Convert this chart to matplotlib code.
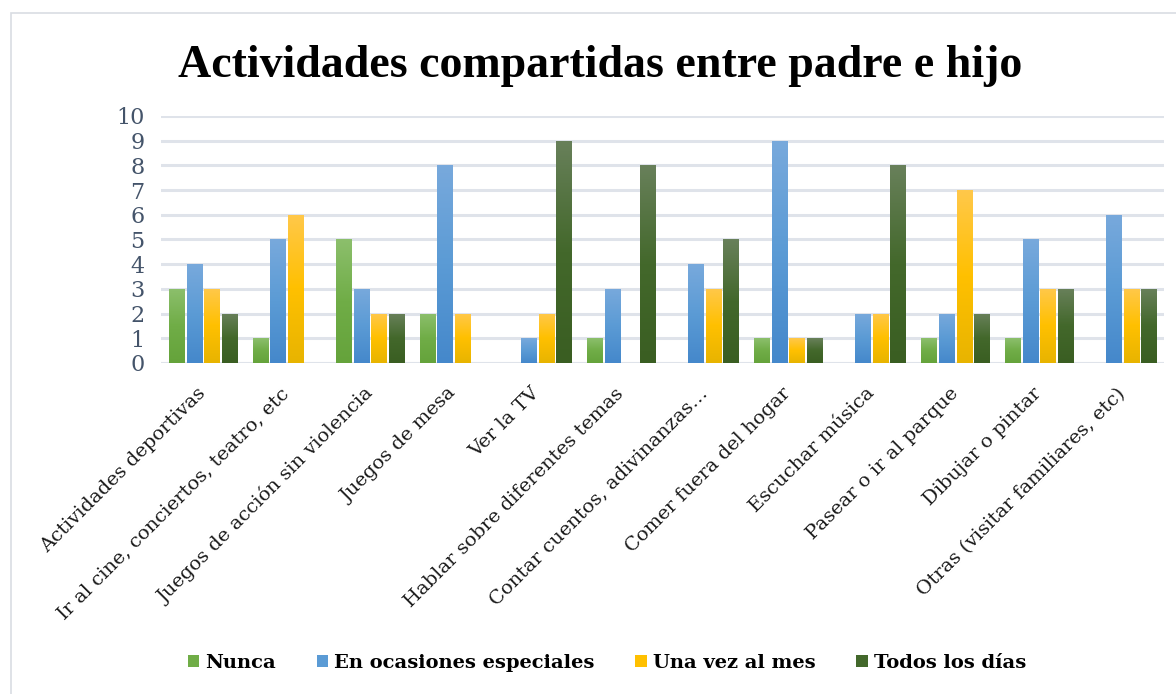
import numpy as np
import matplotlib
matplotlib.use("Agg")
import matplotlib.pyplot as plt
from matplotlib.colors import LinearSegmentedColormap
from matplotlib.patches import Rectangle, Patch

categories = ["Actividades deportivas", "Ir al cine, conciertos, teatro, etc",
              "Juegos de acción sin violencia", "Juegos de mesa", "Ver la TV",
              "Hablar sobre diferentes temas", "Contar cuentos, adivinanzas…",
              "Comer fuera del hogar", "Escuchar música", "Pasear o ir al parque",
              "Dibujar o pintar", "Otras (visitar familiares, etc)"]
nunca = [3, 1, 5, 2, 0, 1, 0, 1, 0, 1, 1, 0]
ocasiones = [4, 5, 3, 8, 1, 3, 4, 9, 2, 2, 5, 6]
una_vez = [3, 6, 2, 2, 2, 0, 3, 1, 2, 7, 3, 3]
todos = [2, 0, 2, 0, 9, 8, 5, 1, 8, 2, 3, 3]
series_names = ["Nunca", "En ocasiones especiales", "Una vez al mes", "Todos los días"]

# (top, mid, bottom) colours for the Excel-like gradient
grads = [("#8cbf6c", "#70ad47", "#65a33b"),
         ("#78a9dc", "#5b9bd5", "#4588cb"),
         ("#ffc84a", "#ffc000", "#e8b400"),
         ("#68805a", "#43682b", "#3a5e22")]
solid = ["#70ad47", "#5b9bd5", "#ffc000", "#43682b"]

serif = "DejaVu Serif"
plt.rcParams["font.family"] = serif

fig = plt.figure(figsize=(11.76, 6.94), dpi=100)
ax = fig.add_axes([0.137, 0.477, 0.853, 0.356])

# chart frame
fig.patches.append(Rectangle((11 / 1176, -0.1), 1.2, 1 - 13 / 694 + 0.1,
                             transform=fig.transFigure, fill=False,
                             edgecolor="#d9dde3", linewidth=1.2))

x = np.arange(len(categories))
slot = 0.21
width = 0.18
data = [nunca, ocasiones, una_vez, todos]
grad = np.linspace(0, 1, 100).reshape(-1, 1)
for i, vals in enumerate(data):
    pos = x + (i - 1.5) * slot
    bars = ax.bar(pos, vals, width, color=solid[i], zorder=2)
    cmap = LinearSegmentedColormap.from_list("g%d" % i, grads[i][::-1])
    for b in bars:
        h = b.get_height()
        if h <= 0:
            continue
        x0 = b.get_x()
        im = ax.imshow(grad, cmap=cmap, origin="lower", aspect="auto",
                       extent=[x0, x0 + b.get_width(), 0, h], zorder=3)
        im.set_clip_path(b)

ax.set_xlim(-0.5, len(categories) - 0.5)
ax.set_ylim(0, 10)
ax.set_yticks(range(0, 11))
ax.yaxis.grid(True, color="#dfe3ea", linewidth=2.2, zorder=0)
ax.set_axisbelow(True)
for s in ax.spines.values():
    s.set_visible(False)
ax.axhline(0, color="#dfe3ea", linewidth=2.2, zorder=1)
ax.tick_params(axis="y", length=0, labelsize=16, labelcolor="#44546a", pad=12)
ax.tick_params(axis="x", length=0, pad=20)
ax.set_xticks(x)
ax.set_xticklabels(categories, rotation=45, ha="right", va="center",
                   rotation_mode="anchor", fontsize=14, color="#1a1a1a")

fig.text(0.51, 0.905, "Actividades compartidas entre padre e hijo",
         ha="center", va="center", fontsize=33, fontweight="bold",
         family="Liberation Serif", color="black")

handles = [Patch(facecolor=solid[i], edgecolor="none") for i in range(4)]
leg = fig.legend(handles, series_names, loc="center", bbox_to_anchor=(0.516, 0.045),
                 ncol=4, frameon=False, handlelength=0.6, handleheight=0.6,
                 handletextpad=0.3, columnspacing=2.1,
                 prop={"family": serif, "weight": "bold", "size": 14})

fig.savefig("out.png", dpi=100)
